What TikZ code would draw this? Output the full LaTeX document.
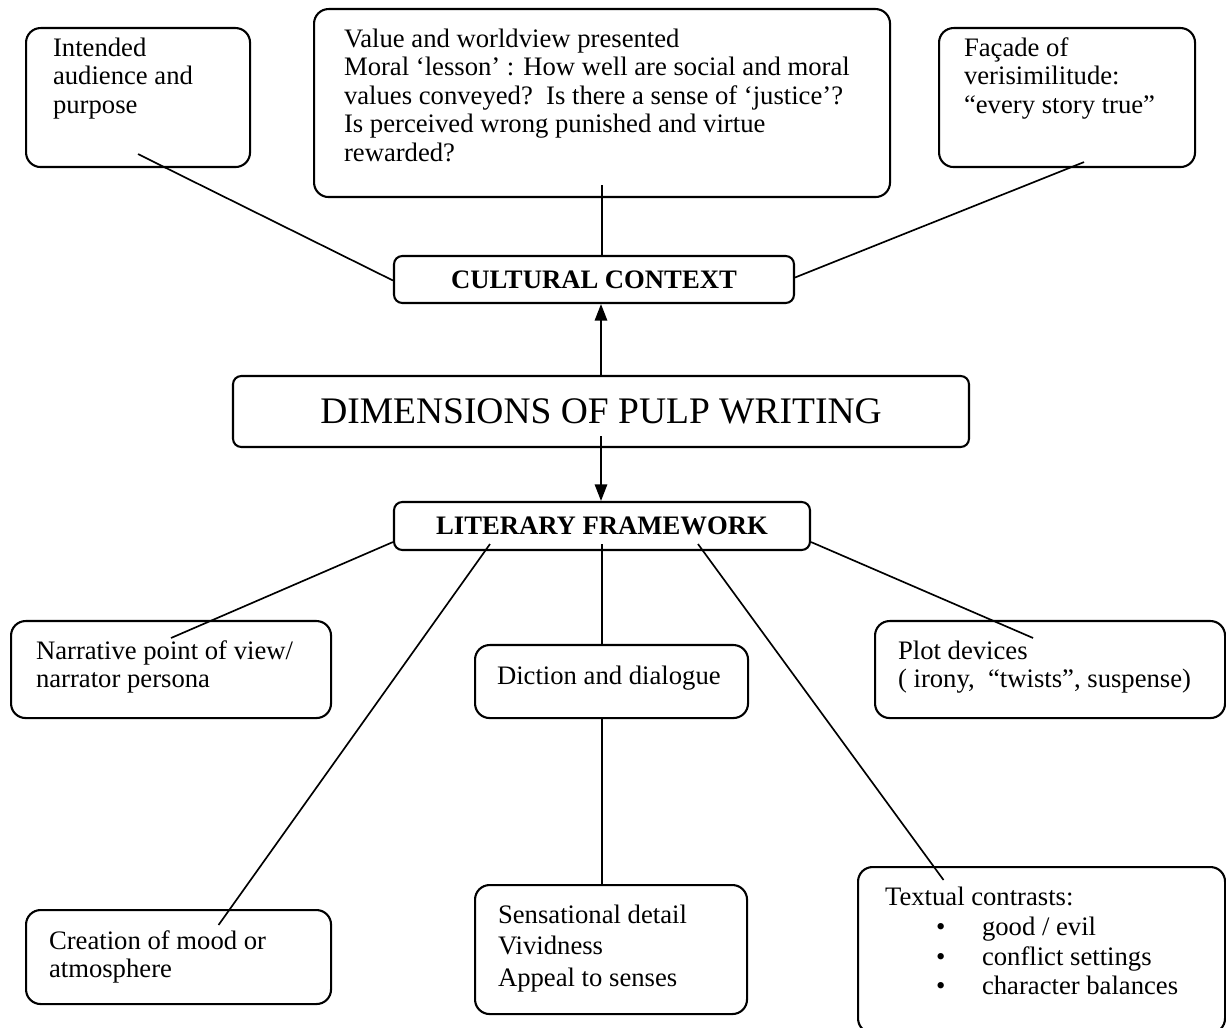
\documentclass[tikz,border=0pt]{standalone}
\usepackage{fontspec}
\setmainfont{Liberation Serif}
\usetikzlibrary{arrows.meta}

\newlength\pxu
\setlength\pxu{0.48pt}
% box text: width, height, top gap, lines
\newcommand\cardtext[4]{\parbox[t][#2\pxu][t]{#1\pxu}{\raggedright\vspace*{#3\pxu}\strut #4}}

\tikzset{
  card/.style={draw, line width=1pt, rounded corners=7pt, anchor=north west,
    inner xsep=24\pxu, inner ysep=0pt, font=\fontsize{12.8}{13.7}\selectfont},
  head/.style={draw, line width=1pt, rounded corners=4pt, inner sep=0pt,
    font=\fontsize{12.8}{14}\selectfont\bfseries},
  link/.style={line width=0.8pt},
  lead/.style={link, -{Triangle[width=6pt,length=8pt]}}
}

\begin{document}
\begin{tikzpicture}[x=0.48pt, y=-0.48pt]
  \useasboundingbox (0,0) rectangle (1226,1028);

  \node[card, inner xsep=27\pxu] (intent) at (25,27)
    {\cardtext{170}{139}{8}{Intended\\audience and\\purpose}};
  \node[card, inner xsep=30\pxu] (value) at (313,8)
    {\cardtext{516}{188}{18}{Value and worldview presented\\
      Moral ‘lesson’ : How well are social and moral\\
      values conveyed?\ \ Is there a sense of ‘justice’?\\
      Is perceived wrong punished and virtue\\
      rewarded?}};
  \node[card, inner xsep=25\pxu] (facade) at (938,27)
    {\cardtext{206}{139}{8}{Façade of\\verisimilitude:\\“every story true”}};

  \node[head, minimum width=400\pxu, minimum height=47\pxu] (cult) at (594,279.5) {CULTURAL CONTEXT};
  \node[head, minimum width=736\pxu, minimum height=71\pxu,
    font=\fontsize{18}{20}\selectfont] (dim) at (601,411.5) {DIMENSIONS OF PULP WRITING};
  \node[head, minimum width=416\pxu, minimum height=48\pxu] (lit) at (602,526) {LITERARY FRAMEWORK};

  \node[card, inner xsep=25\pxu] (narr) at (10,620)
    {\cardtext{270}{97}{18}{Narrative point of view/\\narrator persona}};
  \node[card, inner xsep=22\pxu] (diction) at (474,644)
    {\cardtext{229}{73}{19}{Diction and dialogue}};
  \node[card, inner xsep=23\pxu] (plot) at (874,620)
    {\cardtext{304}{97}{18}{Plot devices\\( irony,\ \ “twists”, suspense)}};

  \node[card, inner xsep=23\pxu] (mood) at (25,909)
    {\cardtext{259}{94}{19}{Creation of mood or\\atmosphere}};
  \node[card, inner xsep=23\pxu] (sens) at (474,884)
    {\cardtext{226}{129}{18}{Sensational detail\\[1.6pt]Vividness\\[1.6pt]Appeal to senses}};
  \node[card, inner xsep=27\pxu] (contrast) at (857,866)
    {\cardtext{313}{166}{18}{Textual contrasts:\\[1pt]
      \hspace*{51\pxu}\makebox[46\pxu][l]{\textbullet}good / evil\\[0.5pt]
      \hspace*{51\pxu}\makebox[46\pxu][l]{\textbullet}conflict settings\\[0.5pt]
      \hspace*{51\pxu}\makebox[46\pxu][l]{\textbullet}character balances}};

  % cultural side
  \draw[link] ([yshift=14\pxu]intent.south) -- ([yshift=-1\pxu]cult.west);
  \draw[link] ([yshift=13\pxu]value.south) -- (value.south |- cult.north);
  \draw[link] ([xshift=17\pxu,yshift=6\pxu]facade.south) -- ([yshift=2\pxu]cult.east);
  \draw[lead] (dim.north) -- (dim.north |- cult.south);
  \draw[lead] ([yshift=12\pxu]dim.south) -- (dim.south |- lit.north);

  % literary side
  \draw[link] ([yshift=9\pxu]lit.south west) -- ([yshift=-18\pxu]narr.north);
  \draw[link] ([xshift=-112\pxu,yshift=7\pxu]lit.south) -- ([xshift=40\pxu,yshift=-16\pxu]mood.north);
  \draw[link] ([yshift=7\pxu]lit.south) -- (lit.south |- diction.north);
  \draw[link] (lit.south |- diction.south) -- (lit.south |- sens.north);
  \draw[link] ([xshift=96\pxu,yshift=7\pxu]lit.south) -- ([xshift=-98\pxu,yshift=-14\pxu]contrast.north);
  \draw[link] ([yshift=9\pxu]lit.south east) -- ([xshift=-17\pxu,yshift=-18\pxu]plot.north);
\end{tikzpicture}
\end{document}
